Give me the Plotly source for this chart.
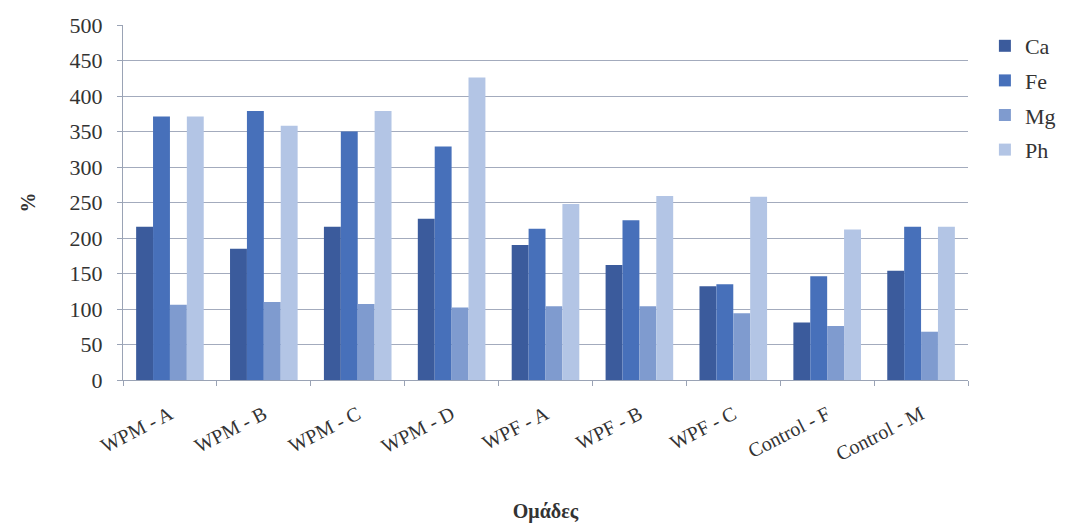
import plotly.graph_objects as go

# Groups on the x axis
groups = ["WPM - A", "WPM - B", "WPM - C", "WPM - D", "WPF - A",
          "WPF - B", "WPF - C", "Control - F", "Control - M"]

# Percent values per element
ca = [216, 185, 216, 227, 190, 162, 132, 81, 154]
fe = [371, 379, 350, 329, 213, 225, 135, 146, 216]
mg = [106, 110, 107, 102, 104, 104, 94, 76, 68]
ph = [371, 358, 379, 426, 248, 259, 258, 212, 216]

series = [
    ("Ca", ca, "#3b5b9c"),
    ("Fe", fe, "#4770ba"),
    ("Mg", mg, "#7f9bcf"),
    ("Ph", ph, "#b3c5e5"),
]

fig = go.Figure()
for name, vals, color in series:
    fig.add_trace(go.Bar(name=name, x=groups, y=vals, marker_color=color,
                         marker_line_width=0, legendgroup=name))

serif = "Liberation Serif, Times New Roman, serif"
ink = "#333333"
axis_col = "#9aa3b5"

fig.update_layout(
    width=1081, height=526,
    margin=dict(l=123, r=113, t=25, b=146),
    paper_bgcolor="white", plot_bgcolor="white",
    barmode="group", bargap=0.28, bargroupgap=0,
    font=dict(family=serif, color=ink),
    legend=dict(x=1.02, y=1.0, xanchor="left", yanchor="top",
                font=dict(family=serif, size=22, color=ink),
                tracegroupgap=3, itemwidth=30),
    xaxis=dict(
        title=dict(text="<b>Ομάδες</b>", font=dict(family=serif, size=20, color=ink),
                   standoff=40),
        automargin=False,
        tickangle=-27, tickfont=dict(family=serif, size=20, color=ink),
        ticklabelstandoff=14,
        showline=True, linecolor=axis_col, linewidth=1,
        ticks="outside", tickson="boundaries", ticklen=5, tickcolor=axis_col,
        showgrid=False,
    ),
    yaxis=dict(
        title=dict(text="<b>%</b>", font=dict(family=serif, size=20, color=ink),
                   standoff=28),
        automargin=False,
        range=[0, 500], dtick=50,
        tickfont=dict(family=serif, size=22, color=ink),
        ticklabelstandoff=10,
        showgrid=True, gridcolor="#a3abbd", gridwidth=1,
        showline=True, linecolor=axis_col, linewidth=1,
        ticks="outside", ticklen=5, tickcolor=axis_col,
        zeroline=False,
    ),
)

fig.write_html("out.html")
